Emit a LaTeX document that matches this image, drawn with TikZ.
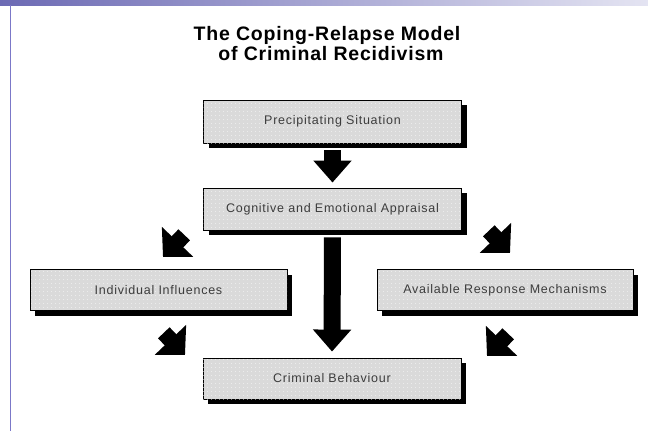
\documentclass[tikz,border=0pt]{standalone}
\usepackage{fontspec}
\setmainfont{Liberation Sans}
\newfontfamily\boxfont[LetterSpace=6]{Liberation Sans}
\newfontfamily\titlefam[LetterSpace=4]{Liberation Sans}
\usetikzlibrary{arrows.meta,shadows,patterns.meta}
\definecolor{barL}{HTML}{6C6AB4}
\definecolor{barR}{HTML}{E4E4F2}
\definecolor{edgeline}{HTML}{7B78C8}
\definecolor{boxfill}{HTML}{DADADA}
\definecolor{boxtext}{HTML}{3C3C3C}
\begin{document}
\begin{tikzpicture}[x=1pt,y=-1pt,
  stepbox/.style={draw=black, line width=0.9pt, fill=boxfill, minimum width=258pt,
    minimum height=42pt, inner sep=0pt, font=\boxfont\fontsize{12.5}{14}\selectfont,
    text=boxtext,
    drop shadow={shadow xshift=5pt, shadow yshift=-5pt, fill=black, opacity=1},
    postaction={pattern={Dots[distance=4pt,radius=0.45pt]}, pattern color=white}},
  fat/.style={line width=17pt, -{Triangle[width=37pt,length=22pt]}},
  diag/.style={line width=16pt, -{Triangle[width=42pt,length=21pt]}},
  titlefont/.style={font=\titlefam\fontsize{19.5}{22}\bfseries\selectfont}
]
\useasboundingbox (0,0) rectangle (648,431);
\fill[white] (0,0) rectangle (648,431);
% frame decoration
\shade[left color=barL, right color=barR] (0,0) rectangle (648,5);
\draw[edgeline, line width=1.5pt] (10.5,5) -- (10.5,431);
% title
\node[titlefont, anchor=base] (t1) at (327,40) {The Coping-Relapse Model};
\node[titlefont, anchor=base] (t2) at (331,60) {of Criminal Recidivism};
% boxes
\node[stepbox, minimum height=43pt] (P) at (332.5,121.5) {Precipitating Situation};
\node[stepbox] (C) at (332.5,209) {Cognitive and Emotional Appraisal};
\node[stepbox, minimum width=257pt, minimum height=41pt] (I) at (158.5,290) {Individual Influences};
\node[stepbox, minimum width=256pt, minimum height=41pt] (A) at (505,290) {Available Response Mechanisms};
\node[stepbox, minimum height=41pt] (B) at (332,378.5) {Criminal Behaviour};
% main arrows
\draw[fat, shorten <=7pt, shorten >=5pt] (P.south) -- (C.north);
\draw[fat, shorten <=7pt, shorten >=6pt] (C.south) -- (B.north);
% diagonal arrows
\coordinate (d1s) at (184.2,234.8); \coordinate (d1e) at (163,257);
\coordinate (d2s) at (488.8,230.8); \coordinate (d2e) at (510,253);
\coordinate (d3s) at (163.8,332.8); \coordinate (d3e) at (185,355);
\coordinate (d4s) at (508.2,333.8); \coordinate (d4e) at (487,356);
\draw[diag] (d1s) -- (d1e);
\draw[diag] (d2s) -- (d2e);
\draw[diag] (d3s) -- (d3e);
\draw[diag] (d4s) -- (d4e);
\end{tikzpicture}
\end{document}
